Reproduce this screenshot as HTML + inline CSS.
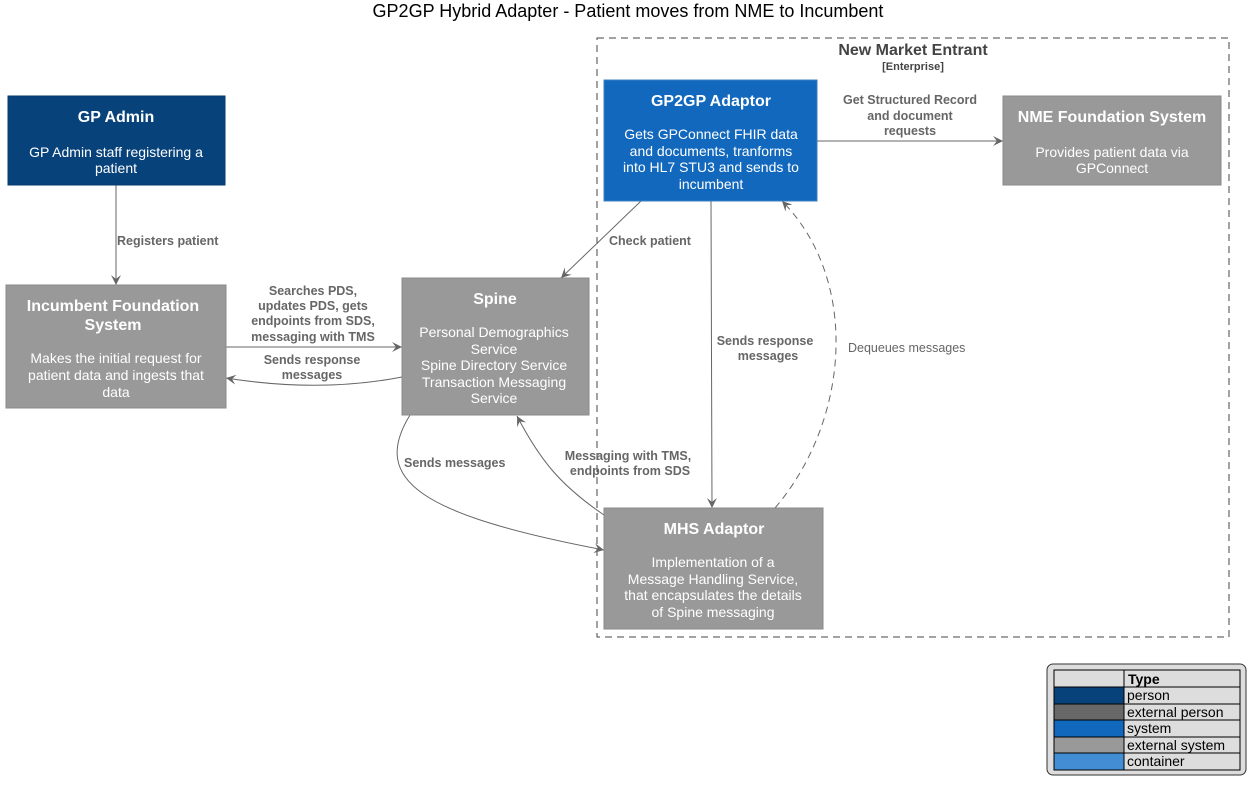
<!DOCTYPE html>
<html><head><meta charset="utf-8"><style>
html,body{margin:0;padding:0;background:#fff;}
svg{display:block;font-family:"Liberation Sans",sans-serif;}
.t{fill:#fff;font-weight:bold;font-size:16px;text-anchor:middle}
.d{fill:#fff;font-size:14px;text-anchor:middle}
.l{fill:#666;font-weight:bold;font-size:12.5px}
.c{text-anchor:middle}
.e{fill:none;stroke:#666;stroke-width:1}
</style></head><body>
<svg width="1256" height="786" viewBox="0 0 1256 786">
<defs><marker id="a" markerWidth="12" markerHeight="10" refX="10" refY="5" orient="auto" markerUnits="userSpaceOnUse"><path d="M0,0 L10,5 L0,10 L4,5 Z" fill="#666"/></marker></defs>
<text x="628" y="17" text-anchor="middle" font-size="18" fill="#000">GP2GP Hybrid Adapter - Patient moves from NME to Incumbent</text>
<rect x="597" y="38" width="632" height="599" fill="none" stroke="#444" stroke-dasharray="7,5"/>
<text x="913" y="55" text-anchor="middle" font-weight="bold" font-size="16" fill="#444">New Market Entrant</text>
<text x="913" y="70" text-anchor="middle" font-weight="bold" font-size="11" fill="#444">[Enterprise]</text>

<!-- edges -->
<path class="e" d="M116,185 L116,285" marker-end="url(#a)"/>
<text class="l" x="117" y="245">Registers patient</text>
<path class="e" d="M226,347 L402,347" marker-end="url(#a)"/>
<text class="l c" x="313" y="295">Searches PDS,</text>
<text class="l c" x="313" y="310">updates PDS, gets</text>
<text class="l c" x="313" y="325">endpoints from SDS,</text>
<text class="l c" x="313" y="341">messaging with TMS</text>
<path class="e" d="M402,377 Q320,393 226,378" marker-end="url(#a)"/>
<text class="l c" x="312" y="364">Sends response</text>
<text class="l c" x="312" y="379">messages</text>
<path class="e" d="M641,201 L561,278" marker-end="url(#a)"/>
<text class="l" x="609" y="245">Check patient</text>
<path class="e" d="M817,141 L1003,141" marker-end="url(#a)"/>
<text class="l c" x="910" y="104">Get Structured Record</text>
<text class="l c" x="910" y="120">and document</text>
<text class="l c" x="910" y="135">requests</text>
<path class="e" d="M711,201 L712,508" marker-end="url(#a)"/>
<text class="l c" x="765" y="345">Sends response</text>
<text class="l c" x="768" y="360">messages</text>
<path class="e" d="M775,508 C850,420 860,280 782,201" stroke-dasharray="7,5" marker-end="url(#a)"/>
<text x="848" y="352" font-size="12.5" fill="#666">Dequeues messages</text>
<path class="e" d="M410,415 C370,480 420,515 604,550" marker-end="url(#a)"/>
<text class="l" x="404" y="467">Sends messages</text>
<path class="e" d="M604,515 C560,485 540,460 517,416" marker-end="url(#a)"/>
<text class="l c" x="628" y="460">Messaging with TMS,</text>
<text class="l c" x="630" y="475">endpoints from SDS</text>

<!-- nodes -->
<rect x="8" y="96" width="217" height="89" fill="#08427B" stroke="#073B6F"/>
<text class="t" x="116" y="122">GP Admin</text>
<text class="d" x="116" y="157">GP Admin staff registering a</text>
<text class="d" x="116" y="173">patient</text>

<rect x="6" y="285" width="220" height="123" fill="#999" stroke="#8A8A8A"/>
<text class="t" x="113" y="311">Incumbent Foundation</text>
<text class="t" x="113" y="330">System</text>
<text class="d" x="116" y="363">Makes the initial request for</text>
<text class="d" x="116" y="380">patient data and ingests that</text>
<text class="d" x="116" y="397">data</text>

<rect x="402" y="278" width="187" height="137" fill="#999" stroke="#8A8A8A"/>
<text class="t" x="495" y="304">Spine</text>
<text class="d" x="494" y="337">Personal Demographics</text>
<text class="d" x="494" y="354">Service</text>
<text class="d" x="494" y="370">Spine Directory Service</text>
<text class="d" x="494" y="387">Transaction Messaging</text>
<text class="d" x="494" y="403">Service</text>

<rect x="604" y="80" width="213" height="121" fill="#1168BD" stroke="#3C7FC0"/>
<text class="t" x="711" y="106">GP2GP Adaptor</text>
<text class="d" x="711" y="139">Gets GPConnect FHIR data</text>
<text class="d" x="711" y="156">and documents, tranforms</text>
<text class="d" x="711" y="172">into HL7 STU3 and sends to</text>
<text class="d" x="711" y="189">incumbent</text>

<rect x="1003" y="96" width="218" height="89" fill="#999" stroke="#8A8A8A"/>
<text class="t" x="1112" y="122">NME Foundation System</text>
<text class="d" x="1112" y="157">Provides patient data via</text>
<text class="d" x="1112" y="173">GPConnect</text>

<rect x="604" y="508" width="219" height="121" fill="#999" stroke="#8A8A8A"/>
<text class="t" x="714" y="534">MHS Adaptor</text>
<text class="d" x="713" y="567">Implementation of a</text>
<text class="d" x="713" y="584">Message Handling Service,</text>
<text class="d" x="713" y="600">that encapsulates the details</text>
<text class="d" x="713" y="617">of Spine messaging</text>

<!-- legend -->
<rect x="1047" y="664" width="199" height="111" rx="6" fill="#ddd" stroke="#333"/>
<g font-size="14" fill="#000">
<rect x="1054" y="670" width="70" height="17" fill="#ddd" stroke="#000"/>
<rect x="1124" y="670" width="116" height="17" fill="#ddd" stroke="#000"/>
<text x="1128" y="684" font-weight="bold">Type</text>
<rect x="1054" y="687" width="70" height="17" fill="#08427B" stroke="#000"/>
<rect x="1124" y="687" width="116" height="17" fill="#ddd" stroke="#000"/>
<text x="1127" y="700">person</text>
<rect x="1054" y="704" width="70" height="16" fill="#686868" stroke="#000"/>
<rect x="1124" y="704" width="116" height="16" fill="#ddd" stroke="#000"/>
<text x="1127" y="717">external person</text>
<rect x="1054" y="720" width="70" height="17" fill="#1168BD" stroke="#000"/>
<rect x="1124" y="720" width="116" height="17" fill="#ddd" stroke="#000"/>
<text x="1127" y="733">system</text>
<rect x="1054" y="737" width="70" height="16" fill="#999" stroke="#000"/>
<rect x="1124" y="737" width="116" height="16" fill="#ddd" stroke="#000"/>
<text x="1127" y="750">external system</text>
<rect x="1054" y="753" width="70" height="17" fill="#438DD5" stroke="#000"/>
<rect x="1124" y="753" width="116" height="17" fill="#ddd" stroke="#000"/>
<text x="1127" y="766">container</text>
</g>
</svg>
</body></html>
